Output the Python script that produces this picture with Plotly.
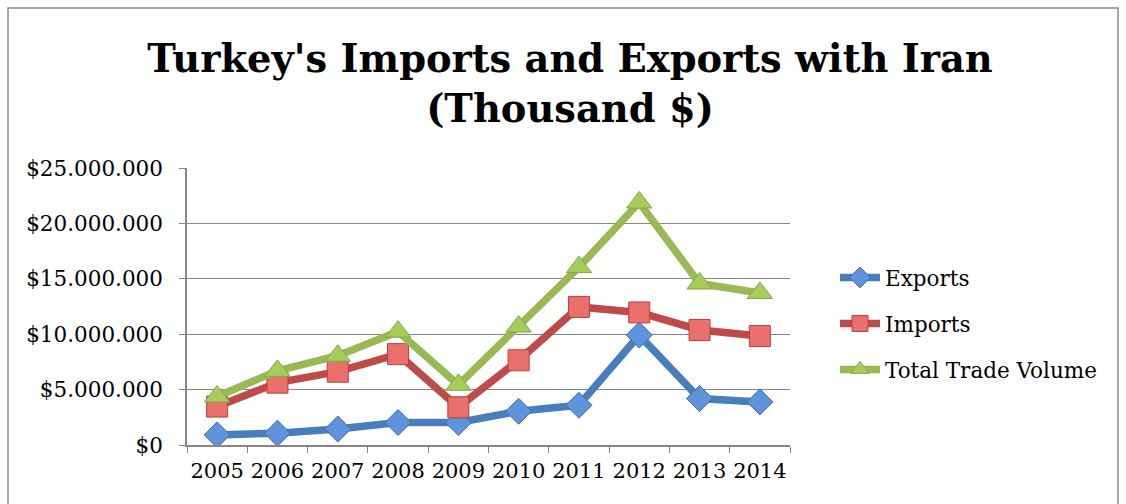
import plotly.graph_objects as go

years = ["2005", "2006", "2007", "2008", "2009", "2010", "2011", "2012", "2013", "2014"]
exports = [913000, 1067000, 1442000, 2030000, 2025000, 3044000, 3590000, 9922000, 4193000, 3887000]
imports = [3470000, 5627000, 6615000, 8200000, 3406000, 7645000, 12462000, 11965000, 10383000, 9833000]
total = [4383000, 6694000, 8057000, 10230000, 5431000, 10689000, 16052000, 21887000, 14576000, 13720000]
ytick_vals = [0, 5000000, 10000000, 15000000, 20000000, 25000000]
ytick_text = ["$0", "$5.000.000", "$10.000.000", "$15.000.000", "$20.000.000", "$25.000.000"]

FONT = "DejaVu Serif"

fig = go.Figure()
fig.add_trace(go.Scatter(
    x=years, y=exports, name="Exports", mode="lines+markers", legendgroup="a",
    line=dict(color="#4a7ebb", width=7.5),
    marker=dict(symbol="diamond", size=20, color="#5f93db", line=dict(color="#3d6db0", width=1)),
))
fig.add_trace(go.Scatter(
    x=years, y=imports, name="Imports", mode="lines+markers", legendgroup="b",
    line=dict(color="#be4b48", width=7.5),
    marker=dict(symbol="square", size=21, color="#e9706c", line=dict(color="#b8403c", width=1)),
))
fig.add_trace(go.Scatter(
    x=years, y=total, name="Total Trade Volume", mode="lines+markers", legendgroup="c",
    line=dict(color="#98b954", width=7.5),
    marker=dict(symbol="triangle-up", size=22, color="#a6cc5a", line=dict(color="#86a84a", width=1)),
))

L, R, T, B = 187, 790, 168, 445
W, H = 1126, 504
pw, ph = R - L, B - T

fig.update_layout(
    width=W, height=H,
    margin=dict(l=L, r=W - R, t=T, b=H - B, autoexpand=False),
    paper_bgcolor="white", plot_bgcolor="white",
    font=dict(family=FONT, size=20, color="black"),
    title=dict(
        text="<b>Turkey's Imports and Exports with Iran<br>(Thousand $)</b>",
        x=570 / W, xanchor="center", y=1 - 72 / H, yanchor="middle",
        font=dict(family=FONT, size=38.4, color="black"),
    ),
    showlegend=True,
    legend=dict(
        x=(835 - L) / pw, xanchor="left", y=(B - 257) / ph, yanchor="top",
        font=dict(family=FONT, size=21.5, color="black"),
        tracegroupgap=15, bgcolor="rgba(0,0,0,0)", itemwidth=40,
    ),
    xaxis=dict(
        type="category", range=[-0.5, 9.5], tickson="boundaries",
        ticks="outside", ticklen=6, tickcolor="#868686", ticklabelstandoff=6,
        tickangle=0, automargin=False,
        showline=True, linecolor="#868686", linewidth=1.5, showgrid=False,
        tickfont=dict(family=FONT, size=21, color="black"),
    ),
    yaxis=dict(
        range=[0, 25000000], tickvals=ytick_vals, ticktext=ytick_text,
        ticks="outside", ticklen=6, tickcolor="#868686", ticklabelstandoff=12,
        automargin=False,
        showline=True, linecolor="#868686", linewidth=1.5,
        showgrid=True, gridcolor="#868686", gridwidth=1.2, zeroline=False,
        tickfont=dict(family=FONT, size=21.5, color="black"),
    ),
    shapes=[dict(
        type="rect", xref="paper", yref="paper",
        x0=(8 - L) / pw, x1=(1118 - L) / pw,
        y0=(B - 520) / ph, y1=(B - 8) / ph,
        line=dict(color="#8c8c8c", width=1.5), fillcolor="rgba(0,0,0,0)", layer="below",
    )],
)

fig.write_html("out.html")
